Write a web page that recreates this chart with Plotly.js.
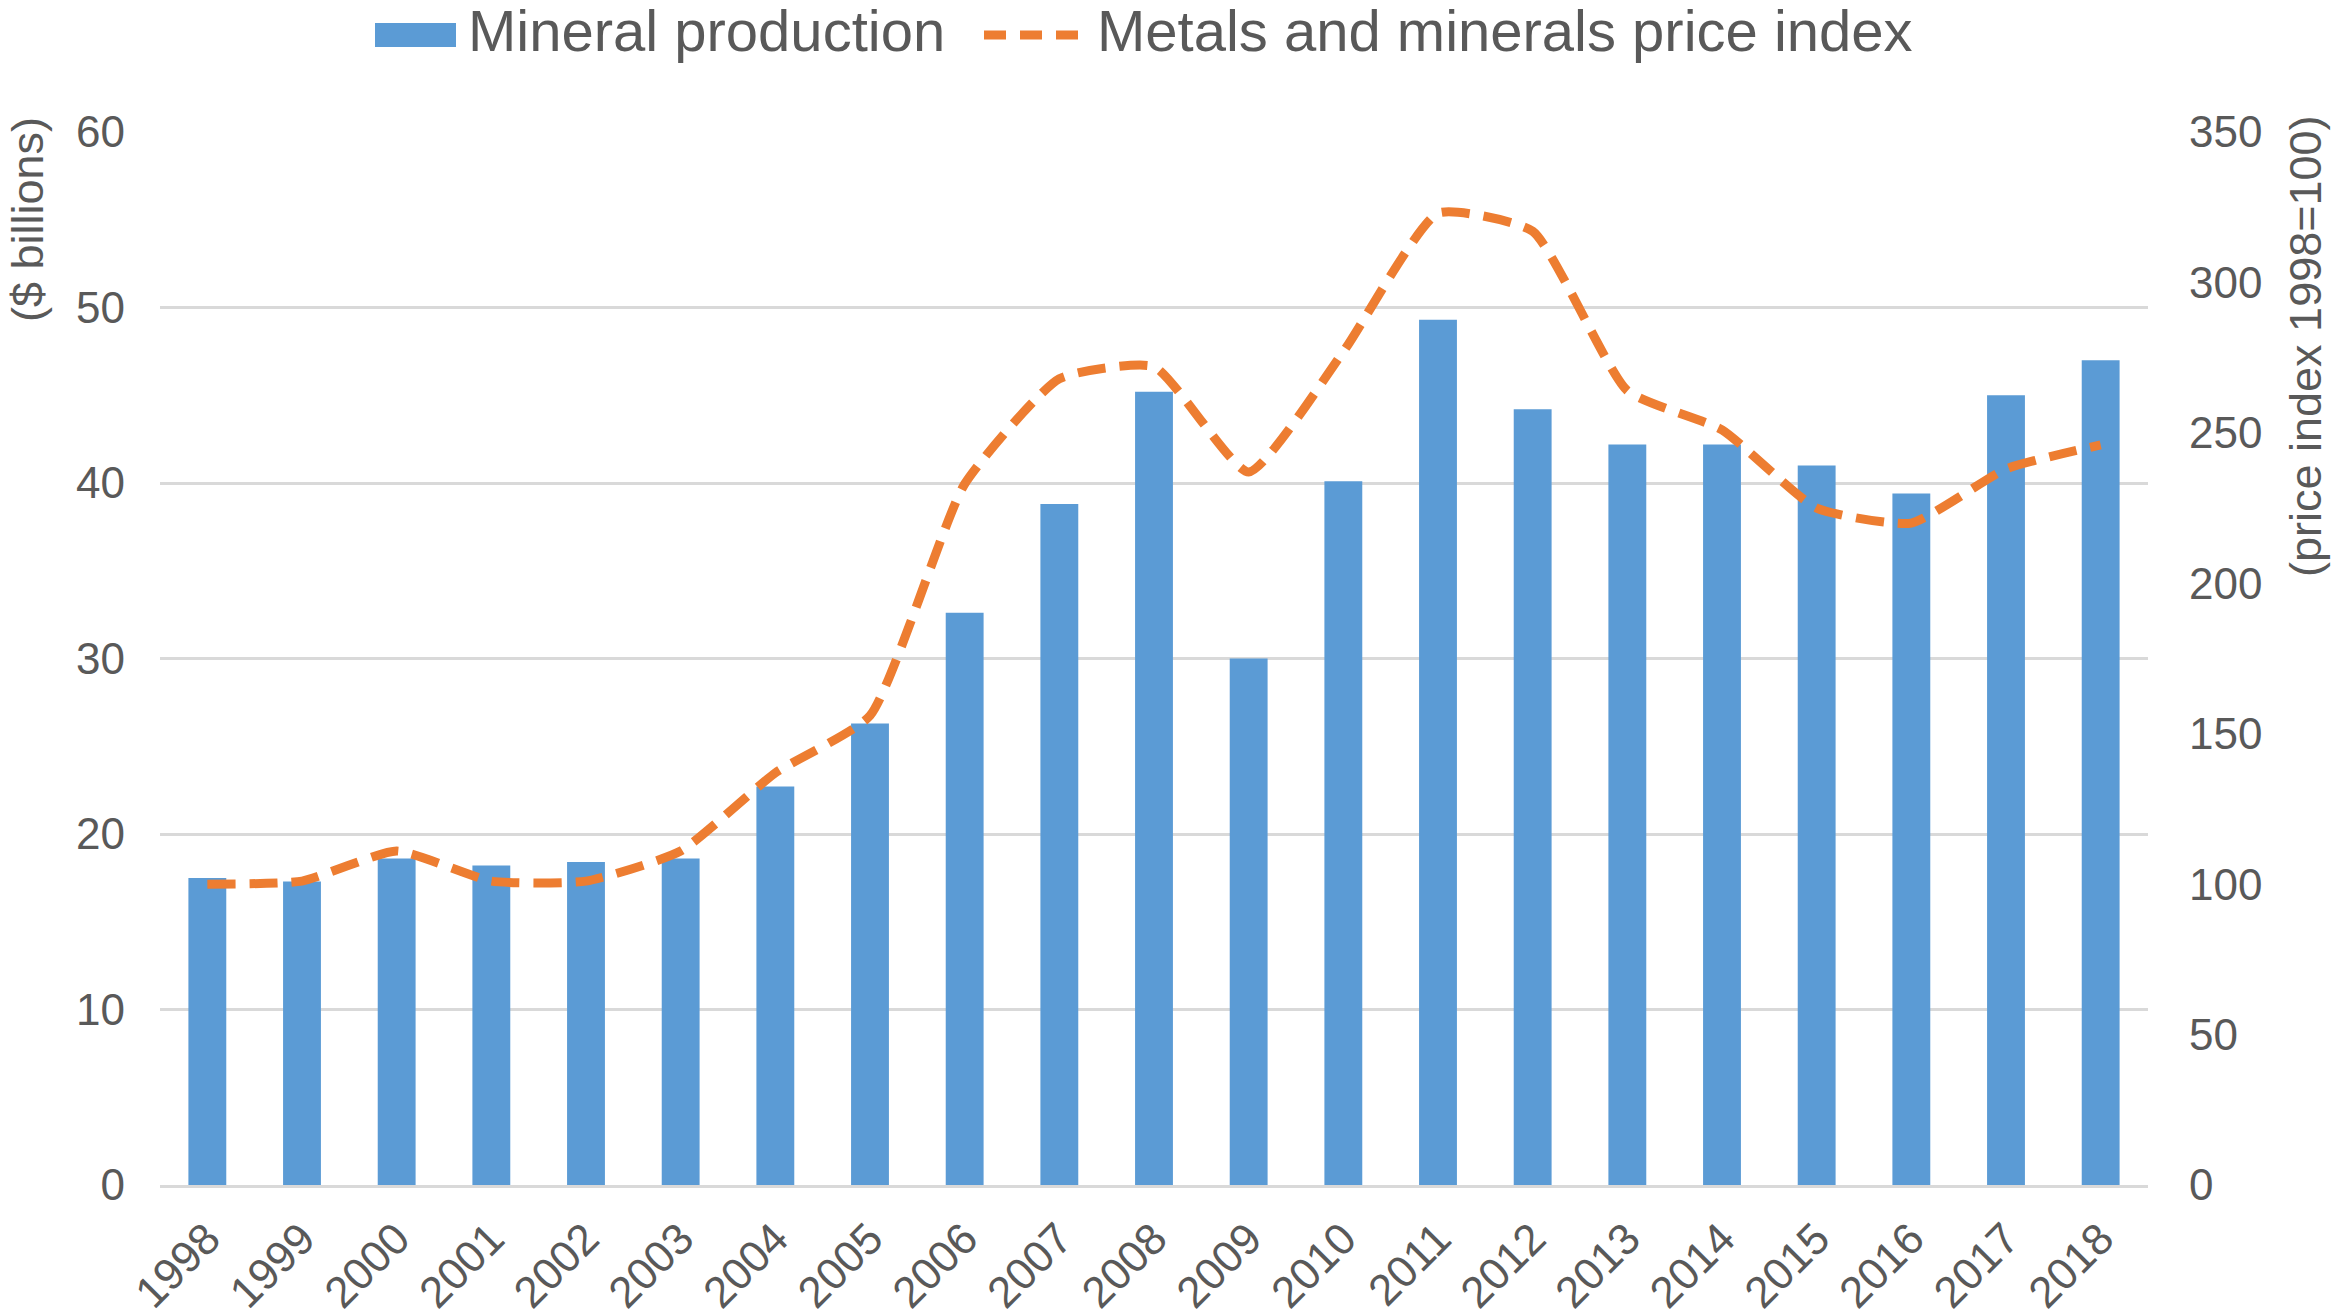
<!DOCTYPE html>
<html>
<head>
<meta charset="utf-8">
<script src="https://cdn.plot.ly/plotly-3.0.1.min.js"></script>
<style>
  html, body { margin: 0; padding: 0; background: #ffffff; }
  #chart { width: 2331px; height: 1314px; }
</style>
</head>
<body>
<div id="chart"></div>
<script>
const years = ['1998','1999','2000','2001','2002','2003','2004','2005','2006','2007','2008','2009','2010','2011','2012','2013','2014','2015','2016','2017','2018'];
const production = [17.5, 17.3, 18.6, 18.2, 18.4, 18.6, 22.7, 26.3, 32.6, 38.8, 45.2, 30.0, 40.1, 49.3, 44.2, 42.2, 42.2, 41.0, 39.4, 45.0, 47.0];
const priceIndex = [100, 101, 111, 101, 101, 111, 137, 156, 233, 268, 272, 237, 277, 323, 317, 264, 251, 225, 220, 238, 246];
const leftTicks = [0, 10, 20, 30, 40, 50, 60];
const rightTicks = [0, 50, 100, 150, 200, 250, 300, 350];
const seriesNames = ['Mineral production', 'Metals and minerals price index'];
const leftTitle = '($ billions)';
const rightTitle = '(price index 1998=100)';

const FONT = 'Liberation Sans, Arial, Helvetica, sans-serif';
const GREY = '#595959';
const BAR_COLOR = '#5B9BD5';
const LINE_COLOR = '#ED7D31';

// plot-area geometry (pixels) used to place the hand-built legend / titles
const W = 2331, H = 1314;
const M = { l: 160, r: 183, t: 132, b: 129 };
const PW = W - M.l - M.r, PH = H - M.t - M.b;
const px = v => (v - M.l) / PW;          // pixel x -> paper x
const py = v => (H - M.b - v) / PH;      // pixel y -> paper y

const traces = [
  {
    type: 'bar',
    name: seriesNames[0],
    x: years,
    y: production,
    marker: { color: BAR_COLOR },
    yaxis: 'y',
    showlegend: false
  },
  {
    type: 'scatter',
    mode: 'lines',
    name: seriesNames[1],
    x: years,
    y: priceIndex,
    yaxis: 'y2',
    line: { color: LINE_COLOR, width: 9, dash: '28px,14px', shape: 'spline', smoothing: 0.5 },
    showlegend: false
  }
];

const layout = {
  width: W,
  height: H,
  paper_bgcolor: '#ffffff',
  plot_bgcolor: '#ffffff',
  margin: { l: M.l, r: M.r, t: M.t, b: M.b, pad: 0 },
  font: { family: FONT, color: GREY, size: 44 },
  bargap: 0.6,
  showlegend: false,
  xaxis: {
    type: 'category',
    tickangle: -45,
    ticks: '',
    showgrid: false,
    showline: true,
    linecolor: '#D9D9D9',
    linewidth: 3,
    zeroline: false,
    tickfont: { family: FONT, size: 44, color: GREY },
    ticklabelstandoff: 7,
    automargin: false
  },
  yaxis: {
    range: [0, 60],
    tickvals: leftTicks,
    ticks: '',
    showgrid: true,
    gridcolor: '#D9D9D9',
    gridwidth: 3,
    zeroline: false,
    showline: false,
    tickfont: { family: FONT, size: 44, color: GREY },
    ticklabelstandoff: 34,
    automargin: false
  },
  yaxis2: {
    range: [0, 350],
    tickvals: rightTicks,
    overlaying: 'y',
    side: 'right',
    ticks: '',
    showgrid: false,
    zeroline: false,
    showline: false,
    tickfont: { family: FONT, size: 44, color: GREY },
    ticklabelstandoff: 40,
    automargin: false
  },
  shapes: [
    {
      type: 'rect', xref: 'paper', yref: 'paper',
      x0: px(375), x1: px(456), y0: py(47), y1: py(23),
      fillcolor: BAR_COLOR, line: { width: 0 }
    },
    {
      type: 'line', xref: 'paper', yref: 'paper',
      x0: px(984), x1: px(1078), y0: py(35), y1: py(35),
      line: { color: LINE_COLOR, width: 9, dash: '22px,14px' }
    }
  ],
  annotations: [
    {
      text: seriesNames[0],
      xref: 'paper', yref: 'paper',
      x: px(466), y: py(30),
      xanchor: 'left', yanchor: 'middle',
      showarrow: false,
      font: { family: FONT, size: 58, color: GREY }
    },
    {
      text: seriesNames[1],
      xref: 'paper', yref: 'paper',
      x: px(1095), y: py(30),
      xanchor: 'left', yanchor: 'middle',
      showarrow: false,
      font: { family: FONT, size: 58, color: GREY }
    },
    {
      text: leftTitle,
      xref: 'paper', yref: 'paper',
      x: px(27), y: py(220),
      xanchor: 'center', yanchor: 'middle',
      textangle: -90,
      showarrow: false,
      font: { family: FONT, size: 45, color: GREY }
    },
    {
      text: rightTitle,
      xref: 'paper', yref: 'paper',
      x: px(2305), y: py(346),
      xanchor: 'center', yanchor: 'middle',
      textangle: -90,
      showarrow: false,
      font: { family: FONT, size: 45, color: GREY }
    }
  ]
};

Plotly.newPlot('chart', traces, layout, { displayModeBar: false, staticPlot: true });
</script>
</body>
</html>
